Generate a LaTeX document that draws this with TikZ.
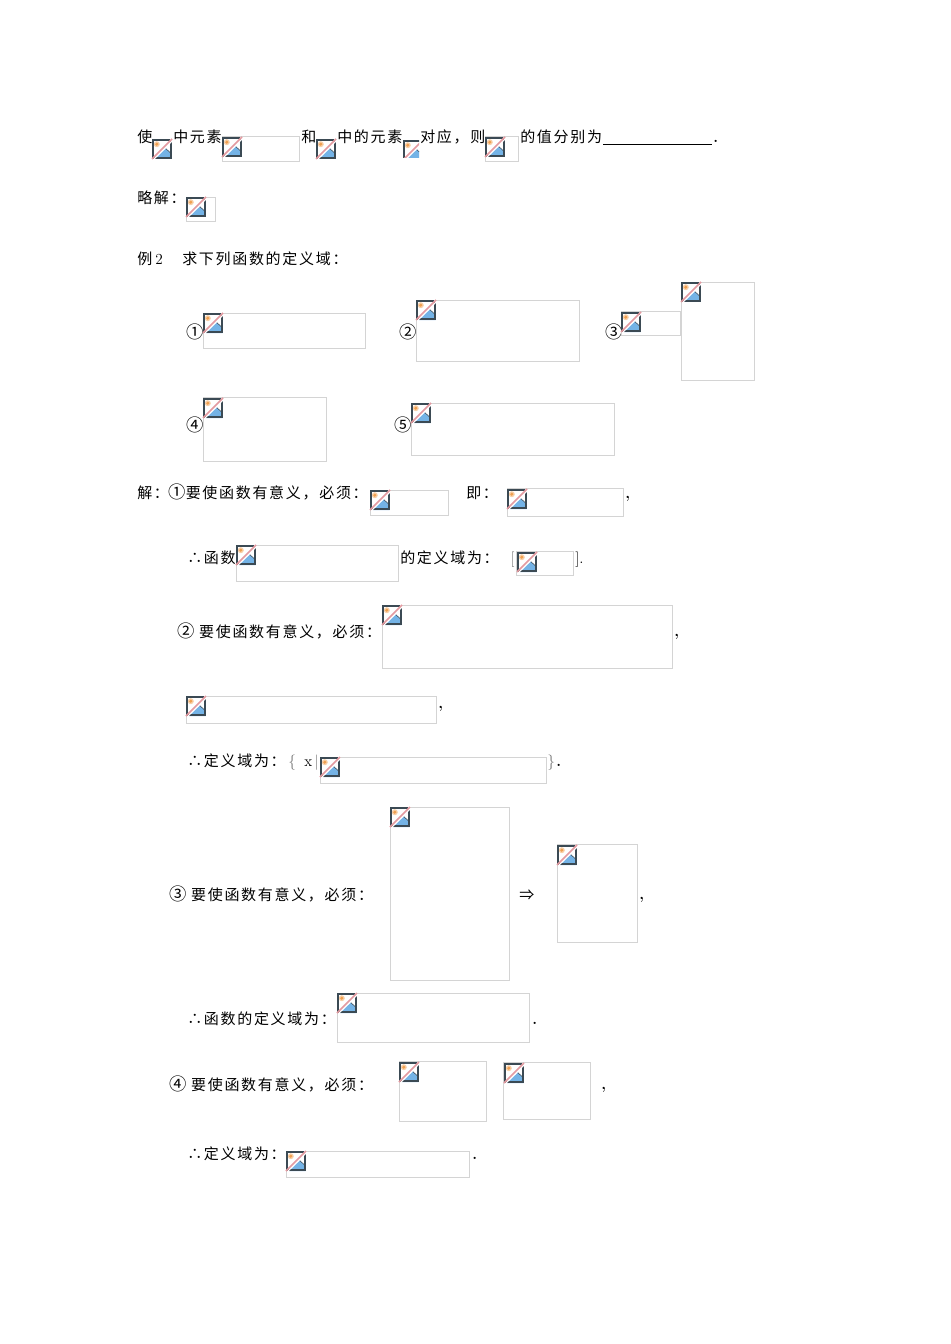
\documentclass[tikz,border=0pt]{standalone}
\usepackage{fontspec}
\newfontfamily\cjk[LetterSpace=11.3]{Noto Sans CJK SC}
\newcommand{\cdig}[1]{\makebox[12.6pt][l]{\fontsize{13pt}{14pt}\selectfont #1}}
\definecolor{imgedge}{HTML}{3B4A54}
\definecolor{imgsun}{HTML}{F0A050}
\definecolor{imghill}{HTML}{74B3E6}
\definecolor{imgcut}{HTML}{E39AA0}
\definecolor{imgframe}{HTML}{D4D4D4}
\tikzset{
	noimg/.pic={
		\fill [white] (0,0) rectangle (20,20);
		\fill [imgsun!50!white] (4.8,5.2) circle (3);
		\fill [imgsun] (4.8,5.2) circle (1.7);
		\fill [imghill] (3,20) -- (13.8,9.5) -- (19.5,15) -- (19.5,20) -- cycle;
		\draw [imgedge, line width=0.4pt] (13.8,9.5) -- (19.5,15);
		\draw [imgedge, line width=1.1pt] (17.5,0.8) -- (0.8,0.8) -- (0.8,19.2) -- (19.2,19.2) -- (19.2,2.5);
		\draw [white, line width=0.8pt] (2,20) -- (21,1);
		\draw [imgcut, line width=1.2pt] (0,20) -- (20,0);
	},
	noimgcut/.pic={
		\clip (0,0) rectangle (16,18);
		\pic {noimg};
	},
	frame/.style={imgframe, line width=0.6pt},
	txt/.style={anchor=base west, inner sep=0pt, font=\fontsize{11.25pt}{13pt}\cjk},
	lat/.style={anchor=base west, inner sep=0pt, font=\fontsize{11.5pt}{13pt}\selectfont},
	punct/.style={lat, font=\fontsize{11.5pt}{13pt}\bfseries},
	thin/.style={lat, text=black!55}
}
\begin{document}
\begin{tikzpicture}[x=0.75pt, y=-0.75pt]
	\useasboundingbox (0,0) rectangle (950,1344);

	% first line
	\node[txt] (shi) at (137,143) {使};
	\pic at (152,139) {noimg};
	\node[txt] (zhong) at (173,143) {中元素};
	\draw[frame] (222,136) rectangle (299.3,161.5);
	\pic at (222,137) {noimg};
	\node[txt] (he) at (301,143) {和};
	\pic at (316,139) {noimg};
	\node[txt] (zhongb) at (337,143) {中的元素};
	\pic at (403,140) {noimgcut};
	\node[txt] (duiying) at (420,143) {对应，则};
	\draw[frame] (485,136) rectangle (518.3,161.5);
	\pic at (485,137) {noimg};
	\node[txt] (zhi) at (520,143) {的值分别为};
	\coordinate (blanka) at (603,145);
	\coordinate (blankb) at (712,145);
	\draw[line width=0.75pt] (blanka) -- (blankb);
	\node[punct] (dota) at (713,143) {.};

	\node[txt] (lue) at (137,204) {略解：};
	\draw[frame] (186,197) rectangle (215.3,221.5);
	\pic at (186,197) {noimg};

	% example 2
	\node[txt] (li) at (137,265) {例};
	\node[lat] (litwo) at (155,265) {2};
	\node[txt] (qiu) at (182,265) {求下列函数的定义域：};

	\node[txt] (qa) at (186,338) {\cdig{①}};
	\draw[frame] (203,313) rectangle (365.3,348.5);
	\pic at (203,313) {noimg};
	\node[txt] (qb) at (399,338) {\cdig{②}};
	\draw[frame] (416,300) rectangle (579.3,361.5);
	\pic at (416,300) {noimg};
	\node[txt] (qc) at (605,338) {\cdig{③}};
	\draw[frame] (621,311) rectangle (680.3,335.5);
	\pic at (621,312) {noimg};
	\draw[frame] (681,282) rectangle (754.3,380.5);
	\pic at (681,282) {noimg};
	\node[txt] (qd) at (186,431) {\cdig{④}};
	\draw[frame] (203,397) rectangle (326.3,461.5);
	\pic at (203,398) {noimg};
	\node[txt] (qe) at (394,431) {\cdig{⑤}};
	\draw[frame] (411,403) rectangle (614.3,455.5);
	\pic at (411,403) {noimg};

	% part 1
	\node[txt] (jie) at (137,498) {解：\cdig{①}要使函数有意义，必须：};
	\draw[frame] (370,490) rectangle (448.3,515.5);
	\pic at (370,490) {noimg};
	\node[txt] (ji) at (466,498) {即：};
	\draw[frame] (507,488) rectangle (623.3,516.5);
	\pic at (507,489) {noimg};
	\node[punct] (comma) at (625,498) {,};
	\node[txt] (han) at (187,563) {∴函数};
	\draw[frame] (236,545) rectangle (398.3,581.5);
	\pic at (236,545) {noimg};
	\node[txt] (ding) at (400,563) {的定义域为：};
	\node[thin] (lb) at (510,563) {[};
	\draw[frame] (516,551) rectangle (573.3,575.5);
	\pic at (517,552) {noimg};
	\node[lat] (rb) at (575,563) {].};

	% part 2
	\node[txt] (pb) at (177,637) {\cdig{②} 要使函数有意义，必须：};
	\draw[frame] (382,605) rectangle (672.3,668.5);
	\pic at (382,605) {noimg};
	\node[punct] (commab) at (674,636) {,};
	\draw[frame] (186,696) rectangle (436.3,723.5);
	\pic at (186,696) {noimg};
	\node[punct] (commac) at (438,708) {,};
	\node[txt] (dingb) at (187,766) {∴定义域为：};
	\node[thin] (lc) at (288,766) {\{};
	\node[lat] (xv) at (304,766) {x};
	\node[thin] (bar) at (314,766) {|};
	\draw[frame] (320,757) rectangle (546.3,783.5);
	\pic at (320,757) {noimg};
	\node[thin] (rc) at (547,766) {\}};
	\node[punct] (dotd) at (556,766) {.};

	% part 3
	\node[txt] (pc) at (169,900) {\cdig{③} 要使函数有意义，必须：};
	\draw[frame] (390,807) rectangle (509.3,980.5);
	\pic at (390,807) {noimg};
	\node[txt] (imp) at (519,900) {⇒};
	\draw[frame] (557,844) rectangle (637.3,942.5);
	\pic at (557,845) {noimg};
	\node[punct] (commad) at (639,899) {,};
	\node[txt] (hanb) at (187,1024) {∴函数的定义域为：};
	\draw[frame] (337,993) rectangle (529.3,1042.5);
	\pic at (337,993) {noimg};
	\node[punct] (dotb) at (532,1024) {.};

	% part 4
	\node[txt] (pd) at (169,1090) {\cdig{④} 要使函数有意义，必须：};
	\draw[frame] (399,1061) rectangle (486.3,1121.5);
	\pic at (399,1062) {noimg};
	\draw[frame] (503,1062) rectangle (590.3,1119.5);
	\pic at (504,1063) {noimg};
	\node[punct] (commae) at (601,1089) {,};
	\node[txt] (dingc) at (187,1159) {∴定义域为：};
	\draw[frame] (286,1151) rectangle (469.3,1177.5);
	\pic at (286,1151) {noimg};
	\node[punct] (dotc) at (472,1159) {.};
\end{tikzpicture}
\end{document}
